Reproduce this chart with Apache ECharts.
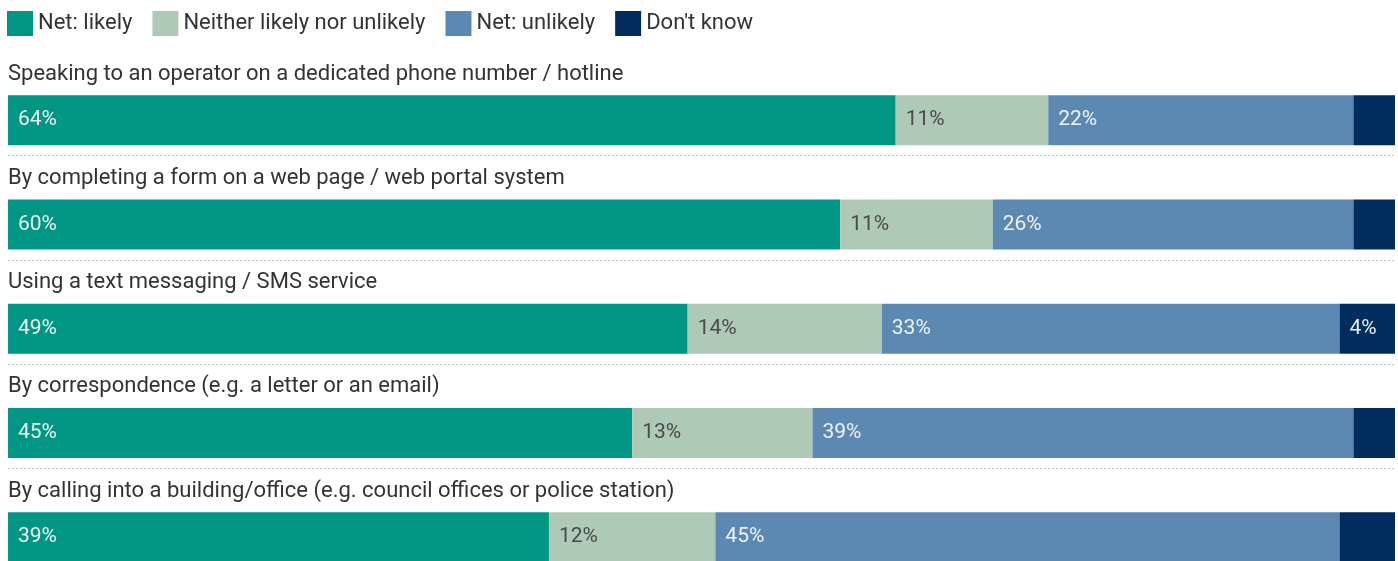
<!DOCTYPE html>
<html>
<head>
<meta charset="utf-8">
<script src="https://cdn.jsdelivr.net/npm/echarts@6/dist/echarts.min.js"></script>
<style>
  html, body { margin: 0; padding: 0; background: #ffffff; }
  #chart { width: 1398px; height: 561px; }
</style>
</head>
<body>
<div id="chart"></div>
<script>
// Preferred contact channels, share of respondents (%)
const categories = [
  'Speaking to an operator on a dedicated phone number / hotline',
  'By completing a form on a web page / web portal system',
  'Using a text messaging / SMS service',
  'By correspondence (e.g. a letter or an email)',
  'By calling into a building/office (e.g. council offices or police station)'
];
const seriesNames = ['Net: likely', 'Neither likely nor unlikely', 'Net: unlikely', "Don't know"];
const netLikely = [64, 60, 49, 45, 39];
const neither = [11, 11, 14, 13, 12];
const netUnlikely = [22, 26, 33, 39, 45];
const dontKnow = [3, 3, 4, 3, 4];
// Only the "Don't know" share printed on the bar is labelled
const dontKnowLabelled = [false, false, true, false, false];

const colors = ['#009683', '#aecab6', '#5c89b2', '#002d5d'];
const labelColors = ['#e8f4f1', '#4a4a4a', '#eef3f8', '#e9eef5'];
const FONT = 'Roboto, "Noto Sans", sans-serif';

const chart = echarts.init(document.getElementById('chart'), null, { renderer: 'canvas' });

function barSeries(idx, values, shown) {
  return {
    name: seriesNames[idx],
    type: 'bar',
    stack: 'total',
    xAxisIndex: 0,
    yAxisIndex: 0,
    barWidth: 50,
    itemStyle: { color: colors[idx] },
    emphasis: { disabled: true },
    data: values.map((v, i) => ({
      value: v,
      label: { show: shown ? shown[i] : true }
    })),
    label: {
      show: true,
      position: 'insideLeft',
      distance: 10,
      formatter: '{c}%',
      color: labelColors[idx],
      fontFamily: FONT,
      fontSize: 21
    }
  };
}

chart.setOption({
  animation: false,
  backgroundColor: '#ffffff',
  legend: {
    left: 7,
    top: 11,
    padding: 0,
    itemWidth: 26,
    itemHeight: 25,
    itemGap: 20,
    icon: 'rect',
    data: seriesNames,
    textStyle: { fontFamily: FONT, fontSize: 22, color: '#333333' },
    selectedMode: false
  },
  grid: [
    // bars and category titles; the last row runs to the bottom edge
    { left: 8, right: 3, top: 68, height: 521.25, outerBoundsMode: 'none', containLabel: false },
    // dotted row separators
    { left: 8, right: 3, top: 51.45, height: 521.25, outerBoundsMode: 'none', containLabel: false }
  ],
  xAxis: [
    { gridIndex: 0, type: 'value', min: 0, max: 100, show: false },
    { gridIndex: 1, type: 'value', min: 0, max: 100, show: false }
  ],
  yAxis: [
    {
      gridIndex: 0,
      type: 'category',
      inverse: true,
      data: categories,
      axisLine: { show: false },
      axisTick: { show: false },
      splitLine: { show: false },
      axisLabel: {
        inside: true,
        interval: 0,
        margin: 0,
        align: 'left',
        verticalAlign: 'bottom',
        padding: [0, 0, 35, 0],
        fontFamily: FONT,
        fontSize: 22,
        color: '#333333'
      }
    },
    {
      gridIndex: 1,
      type: 'category',
      inverse: true,
      data: categories,
      axisLine: { show: false },
      axisTick: { show: false },
      axisLabel: { show: false },
      splitLine: {
        show: true,
        showMinLine: false,
        showMaxLine: false,
        lineStyle: { color: '#c4c4c4', width: 1, type: [2, 2] }
      }
    }
  ],
  series: [
    barSeries(0, netLikely),
    barSeries(1, neither),
    barSeries(2, netUnlikely),
    barSeries(3, dontKnow, dontKnowLabelled)
  ]
});
</script>
</body>
</html>
